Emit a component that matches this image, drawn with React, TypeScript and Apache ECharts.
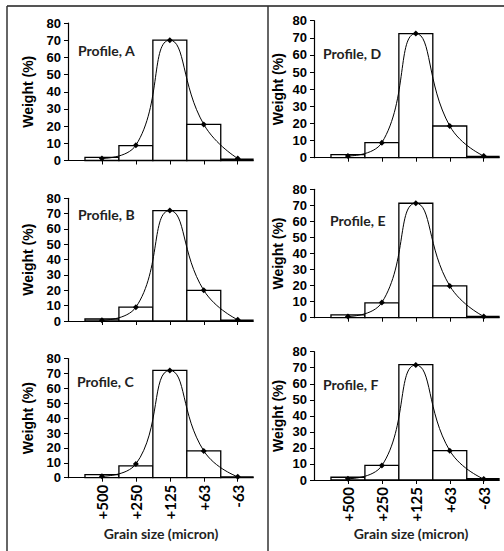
import React, { useEffect, useRef } from 'react';
import * as echarts from 'echarts';

// ---------- data ----------
const categories = ['+500', '+250', '+125', '+63', '-63'];
const positions = [1, 2, 3, 4, 5];
const profileNames = ['Profile, A', 'Profile, B', 'Profile, C', 'Profile, D', 'Profile, E', 'Profile, F'];

const barsA = [1.8, 8.7, 70, 21, 0.8];
const pointsA = [1.2, 8.9, 70, 21, 1.2];
const barsB = [1.3, 9, 72, 20, 0.6];
const pointsB = [0.5, 9, 72, 20, 0.8];
const barsC = [2, 8, 72, 18, 0.6];
const pointsC = [1, 9.2, 72, 18, 0.6];
const barsD = [1.8, 8.8, 72.5, 18.5, 0.8];
const pointsD = [1, 8.8, 72.5, 18.5, 1];
const barsE = [1.7, 9.2, 71.3, 19.8, 0.8];
const pointsE = [0.8, 9.5, 71.3, 19.8, 0.8];
const barsF = [1.7, 9.1, 72, 18.3, 0.8];
const pointsF = [0.8, 9, 71.7, 18.3, 0.6];

const xAxisTitle = 'Grain size (micron)';
const yAxisTitle = 'Weight (%)';

// ---------- layout ----------
const panels = [
  { title: profileNames[0], bars: barsA, points: pointsA, grid: { left: 68, top: 23, width: 185, height: 137.5 }, titlePos: [78, 52], bottom: false, nameGap: 33 },
  { title: profileNames[1], bars: barsB, points: pointsB, grid: { left: 68, top: 198.3, width: 185, height: 122.7 }, titlePos: [78, 216], bottom: false, nameGap: 33 },
  { title: profileNames[2], bars: barsC, points: pointsC, grid: { left: 68, top: 358.5, width: 185, height: 119.2 }, titlePos: [77, 383], bottom: true, nameGap: 33 },
  { title: profileNames[3], bars: barsD, points: pointsD, grid: { left: 314, top: 20.7, width: 185, height: 137 }, titlePos: [323, 55], bottom: false, nameGap: 29 },
  { title: profileNames[4], bars: barsE, points: pointsE, grid: { left: 314, top: 189.3, width: 185, height: 128.4 }, titlePos: [330, 222], bottom: false, nameGap: 29 },
  { title: profileNames[5], bars: barsF, points: pointsF, grid: { left: 314, top: 351.7, width: 185, height: 128.3 }, titlePos: [323, 386], bottom: true, nameGap: 29 },
];

const LABEL_FONT = '"Liberation Sans", Arial, sans-serif';
const TEXT_FONT = 'Lato, "Open Sans", sans-serif';

export default function App() {
  const ref = useRef<HTMLDivElement>(null);

  useEffect(() => {
    if (!ref.current) return;
    const chart = echarts.init(ref.current, undefined, { renderer: 'svg' });

    const grids: any[] = [];
    const xAxes: any[] = [];
    const yAxes: any[] = [];
    const series: any[] = [];
    const graphics: any[] = [];

    panels.forEach((p, i) => {
      grids.push({ ...p.grid, containLabel: false });
      xAxes.push({
        type: 'value',
        gridIndex: i,
        min: 0,
        max: 5.45,
        interval: 1,
        splitLine: { show: false },
        axisLine: { show: true, lineStyle: { color: '#000', width: 1.2 } },
        axisTick: { show: true, length: 4, customValues: positions, lineStyle: { color: '#000' } },
        axisLabel: {
          show: p.bottom,
          customValues: positions,
          rotate: 90,
          margin: 7,
          color: '#000',
          fontFamily: TEXT_FONT,
          fontWeight: 'bold',
          fontSize: 15,
          formatter: (v: number) => categories[Math.round(v) - 1] ?? '',
        },
      });
      yAxes.push({
        type: 'value',
        gridIndex: i,
        min: 0,
        max: 80,
        interval: 10,
        splitLine: { show: false },
        axisLine: { show: true, lineStyle: { color: '#000', width: 1.2 } },
        axisTick: { show: true, length: 4, lineStyle: { color: '#000' } },
        axisLabel: {
          margin: 7,
          color: '#000',
          fontFamily: LABEL_FONT,
          fontWeight: 'bold',
          fontSize: 13,
        },
        name: yAxisTitle,
        nameLocation: 'middle',
        nameRotate: 90,
        nameGap: p.nameGap,
        nameTextStyle: {
          color: '#000',
          fontFamily: LABEL_FONT,
          fontWeight: 'bold',
          fontSize: 14,
        },
      });
      series.push({
        type: 'custom',
        xAxisIndex: i,
        yAxisIndex: i,
        data: positions.map((x, k) => [x, p.bars[k]]),
        encode: { x: 0, y: 1 },
        z: 2,
        renderItem: (params: any, api: any) => {
          const x = api.value(0);
          const v = api.value(1);
          const a = api.coord([x - 0.5, v]);
          const b = api.coord([x + 0.5, 0]);
          const cs = params.coordSys;
          const shape = echarts.graphic.clipRectByRect(
            { x: a[0], y: a[1], width: b[0] - a[0], height: b[1] - a[1] },
            { x: cs.x, y: cs.y - 2, width: cs.width, height: cs.height + 2 }
          );
          if (!shape) return null;
          return {
            type: 'rect',
            shape,
            style: { fill: '#fff', stroke: '#000', lineWidth: 1.3 },
          };
        },
      });
      series.push({
        type: 'line',
        xAxisIndex: i,
        yAxisIndex: i,
        data: positions.map((x, k) => [x, p.points[k]]),
        smooth: true,
        symbol: 'diamond',
        symbolSize: 6,
        z: 5,
        lineStyle: { color: '#000', width: 1 },
        itemStyle: { color: '#000' },
      });
      graphics.push({
        type: 'text',
        left: p.titlePos[0],
        top: p.titlePos[1] - 9,
        style: {
          text: p.title,
          fill: '#222',
          font: `bold 14px ${TEXT_FONT}`,
        },
      });
    });

    // x axis titles
    graphics.push({
      type: 'text',
      x: 161,
      y: 533,
      style: { text: xAxisTitle, fill: '#222', font: `bold 14px ${TEXT_FONT}`, align: 'center', verticalAlign: 'middle' },
    });
    graphics.push({
      type: 'text',
      x: 411,
      y: 533,
      style: { text: xAxisTitle, fill: '#222', font: `bold 14px ${TEXT_FONT}`, align: 'center', verticalAlign: 'middle' },
    });
    // frame lines
    graphics.push({ type: 'line', shape: { x1: 7, y1: 6, x2: 504, y2: 6 }, style: { stroke: '#555', lineWidth: 2 } });
    graphics.push({ type: 'line', shape: { x1: 7, y1: 6, x2: 7, y2: 551 }, style: { stroke: '#333', lineWidth: 1.5 } });
    graphics.push({ type: 'line', shape: { x1: 268, y1: 6, x2: 268, y2: 551 }, style: { stroke: '#333', lineWidth: 1.5 } });

    chart.setOption({
      animation: false,
      backgroundColor: '#fff',
      grid: grids,
      xAxis: xAxes,
      yAxis: yAxes,
      series,
      graphic: graphics,
    });

    return () => chart.dispose();
  }, []);

  return (
    <div
      ref={ref}
      style={{ position: 'fixed', left: 0, top: 0, width: 504, height: 551, background: '#fff' }}
    />
  );
}
